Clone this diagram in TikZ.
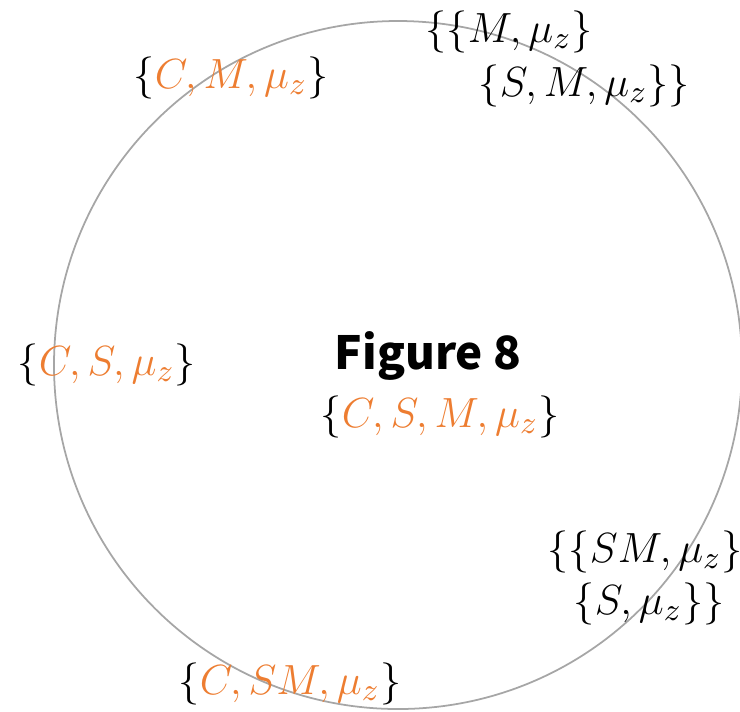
\documentclass[tikz,border=0pt]{standalone}
\usepackage{amsmath}
\usepackage{fontspec}
\newfontfamily\titlefont{Noto Sans CJK JP}
\usepackage{tikz}
\usetikzlibrary{positioning}

\definecolor{setorange}{RGB}{237,125,49}
\definecolor{ringgray}{RGB}{166,166,166}
\newcommand{\orn}[1]{\textcolor{setorange}{#1}}

\begin{document}
\begin{tikzpicture}[x=0.01cm,y=-0.01cm,
  ring/.style={draw=ringgray,line width=0.5pt},
  setlbl/.style={inner sep=0pt,anchor=west,font=\fontsize{13}{15}\selectfont},
  title/.style={inner sep=0pt,font=\titlefont\bfseries\fontsize{13}{15}\selectfont}]
  \useasboundingbox (0,0) rectangle (740,711);
  \clip (0,0) rectangle (740,711);
  \draw[ring] (398,365) circle (344);
  % labels round the ring
  \node[setlbl] (cm) at (133,78) {$\{\orn{C,M,\mu_z}\}$};
  \node[setlbl] (mz) at (425,32) {$\{\{M,\mu_z\}$};
  \node[setlbl] (smz) at (478,86) {$\{S,M,\mu_z\}\}$};
  \node[setlbl] (cs) at (17,365) {$\{\orn{C,S,\mu_z}\}$};
  \node[setlbl] (smmz) at (547,552) {$\{\{SM,\mu_z\}$};
  \node[setlbl] (sz) at (573,604) {$\{S,\mu_z\}\}$};
  \node[setlbl] (csm) at (178,684) {$\{\orn{C,SM,\mu_z}\}$};
  % centre
  \node[title] (fig) at (428,356) {Figure 8};
  \node[setlbl] (csmz) at (320,417) {$\{\orn{C,S,M,\mu_z}\}$};
\end{tikzpicture}
\end{document}
